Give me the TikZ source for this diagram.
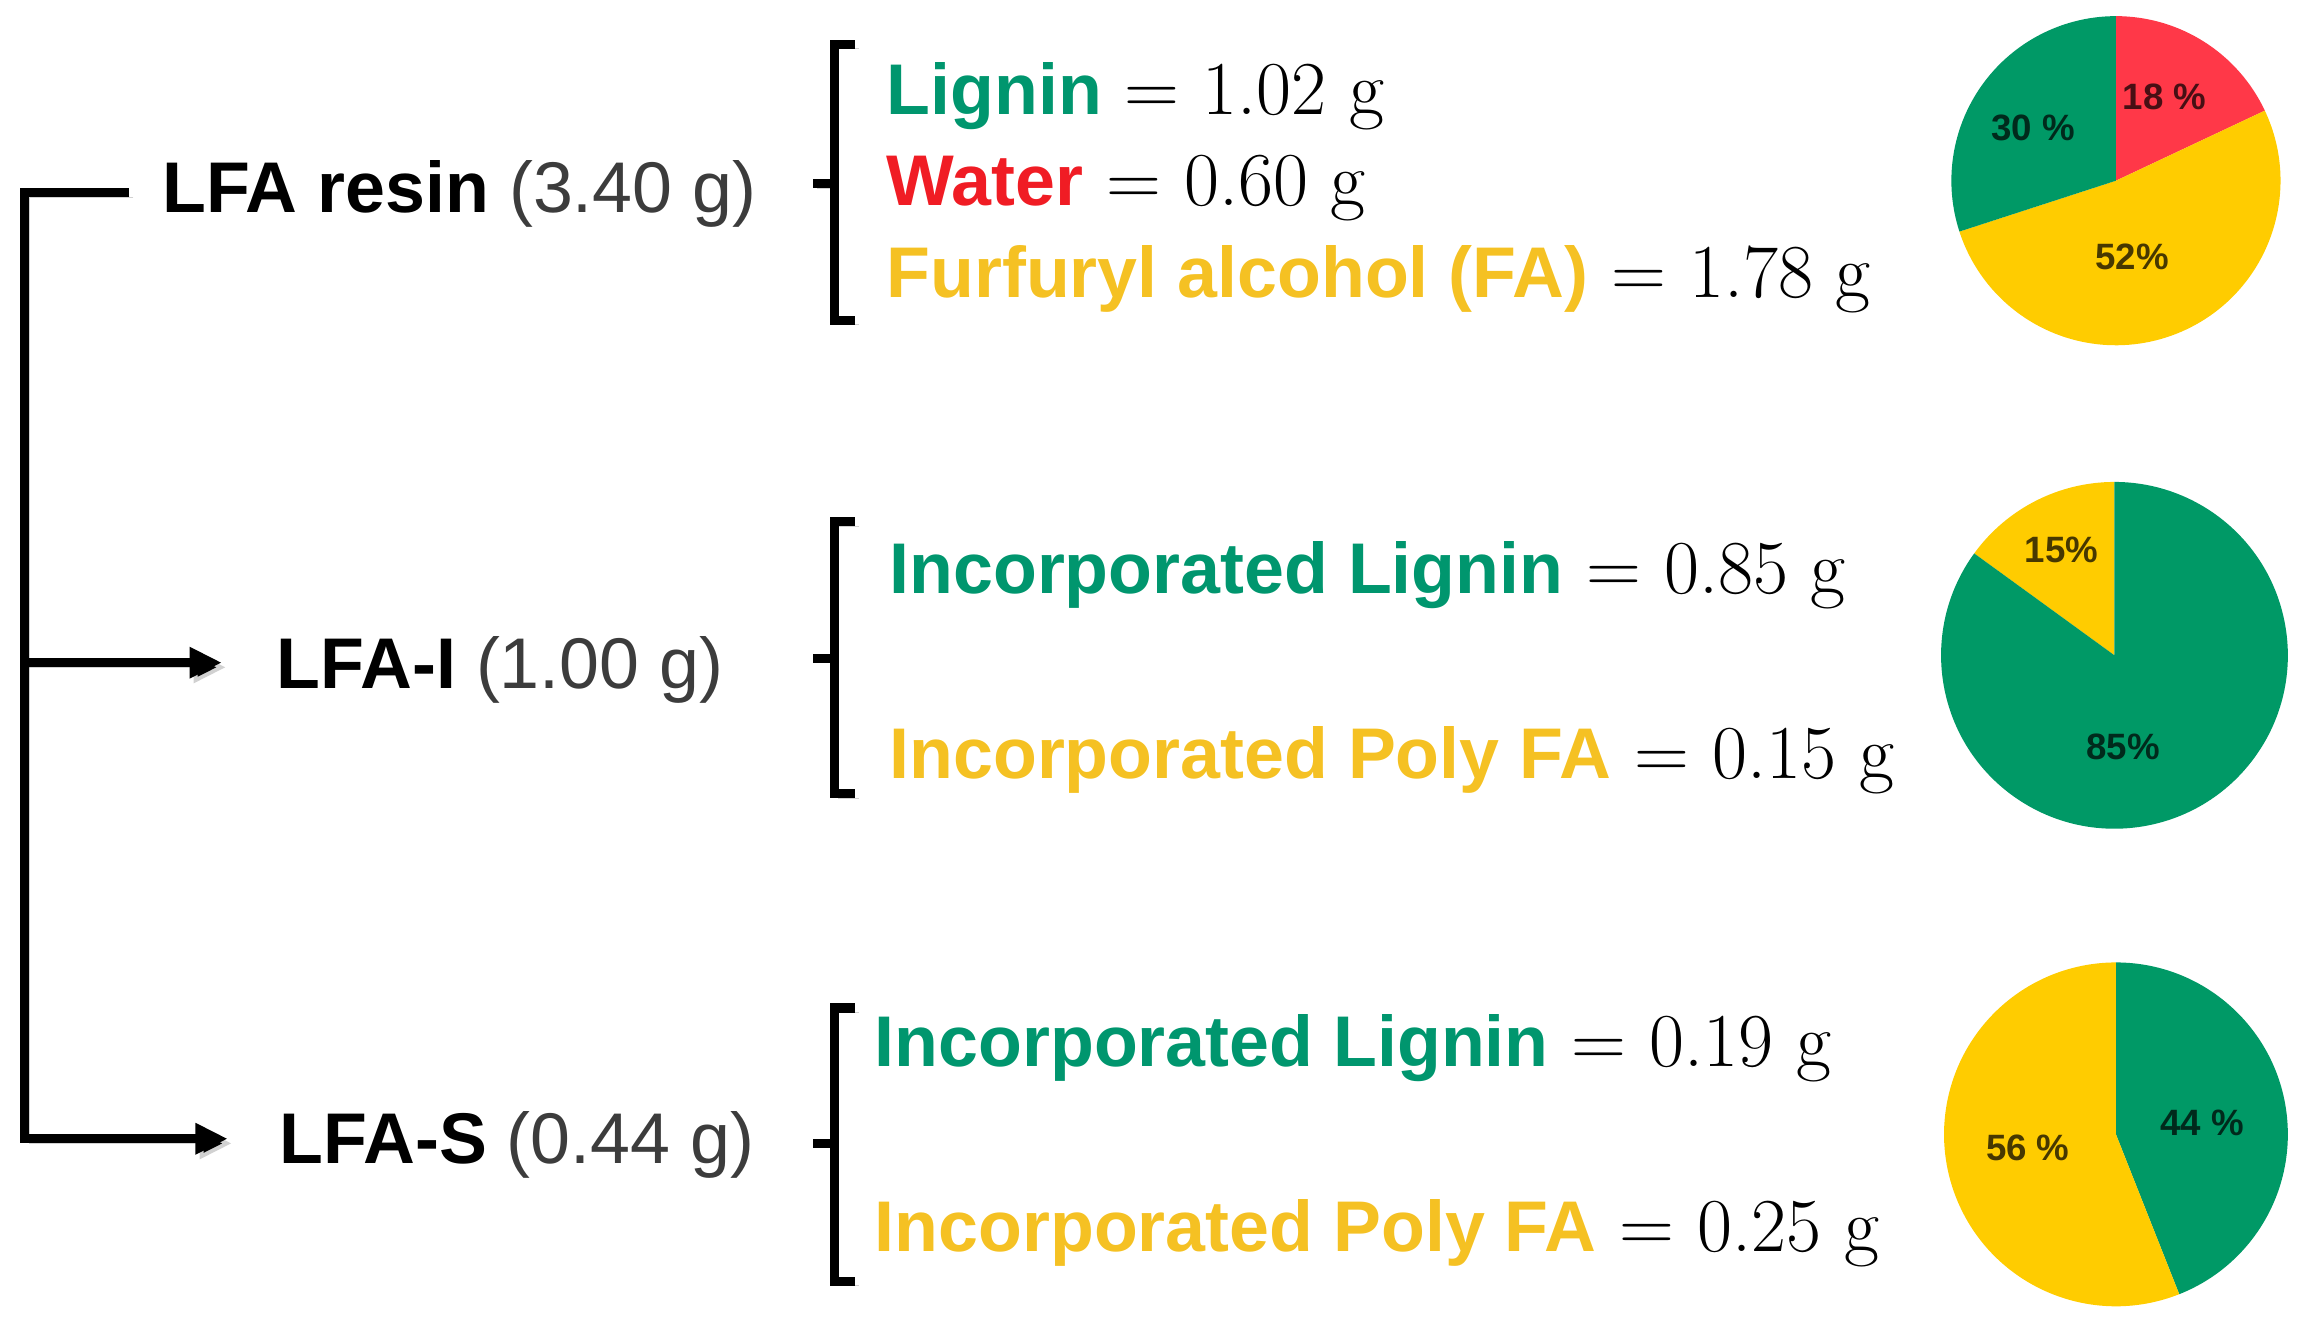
\documentclass[tikz,border=0pt]{standalone}
\usepackage{fontspec}
\newfontfamily\arialf{Liberation Sans}
\usetikzlibrary{arrows.meta}
\definecolor{tgreen}{RGB}{0,150,110}
\definecolor{tred}{RGB}{240,28,36}
\definecolor{tyellow}{RGB}{245,193,35}
\definecolor{pgreen}{RGB}{0,153,102}
\definecolor{pred}{RGB}{255,56,72}
\definecolor{pyellow}{RGB}{255,204,0}
\definecolor{tgray}{RGB}{60,60,60}
\newcommand\sansb[2]{{\arialf\bfseries\fontsize{27.8}{31}\selectfont\textcolor{#1}{#2}}}
\tikzset{
 mainlbl/.style={anchor=mid west, inner sep=0pt, font=\arialf\fontsize{27.8}{31}\selectfont},
 itemlbl/.style={anchor=mid west, inner sep=0pt, font=\fontsize{29.5}{32}\selectfont},
 shad/.style={preaction={draw=black, draw opacity=0.18, transform canvas={xshift=1.6pt,yshift=-1.8pt}}},
 treeline/.style={line width=3.5pt, shad},
 brk/.style={line width=3.5pt, shad},
 tip/.style={-{Triangle[length=0.44cm,width=0.4cm]}},
 pct/.style={font=\arialf\bfseries\fontsize{14.2}{16}\selectfont, text=black, text opacity=0.72, inner sep=0pt},
}
\begin{document}
\begin{tikzpicture}[x=0.02cm,y=0.02cm]
\useasboundingbox (0,0) rectangle (1568,908);
% main labels
\node[mainlbl] (resin) at (110,767) {\textbf{LFA resin} \textcolor{tgray}{(3.40 g)}};
\node[mainlbl] (lfai) at (188,443) {\textbf{LFA-I} \textcolor{tgray}{(1.00 g)}};
\node[mainlbl] (lfas) at (190,120) {\textbf{LFA-S} \textcolor{tgray}{(0.44 g)}};
% tree
\coordinate (tl) at (17,777);
\coordinate (j1) at (17,457);
\coordinate (j2) at (17,133);
\coordinate (r0) at ([xshift=-0.44cm]resin.west);
\coordinate (i0) at ([xshift=-0.74cm]lfai.west);
\coordinate (s0) at ([xshift=-0.7cm]lfas.west);
\draw[treeline,tip,line join=miter] (r0 |- tl) -- (tl) -- (j2) -- (s0 |- j2);
\draw[treeline,tip] (j1) -- (i0 |- j1);
% brackets
\draw[brk] (582,878) -- (568,878) -- (568,690) -- (582,690);
\draw[brk] (568,783) -- (553,783);
\draw[brk] (582,553) -- (568,553) -- (568,368) -- (582,368);
\draw[brk] (568,460) -- (553,460);
\draw[brk] (582,222) -- (568,222) -- (568,36) -- (582,36);
\draw[brk] (568,130) -- (553,130);
% items
\node[itemlbl] (a1) at (603,834) {\sansb{tgreen}{Lignin} = 1.02 g};
\node[itemlbl] (a2) at (603,772) {\sansb{tred}{Water} = 0.60 g};
\node[itemlbl] (a3) at (603,709) {\sansb{tyellow}{Furfuryl alcohol (FA)} = 1.78 g};
\node[itemlbl] (b1) at (605,508) {\sansb{tgreen}{Incorporated Lignin} = 0.85 g};
\node[itemlbl] (b2) at (605,382) {\sansb{tyellow}{Incorporated Poly FA} = 0.15 g};
\node[itemlbl] (c1) at (595,186) {\sansb{tgreen}{Incorporated Lignin} = 0.19 g};
\node[itemlbl] (c2) at (595,60) {\sansb{tyellow}{Incorporated Poly FA} = 0.25 g};
% pie 1
\begin{scope}[shift={(1440,785)}]
\fill[pred] (0,0) -- (90:112) arc[start angle=90,end angle=25.2,radius=112] -- cycle;
\fill[pyellow] (0,0) -- (25.2:112) arc[start angle=25.2,end angle=-162,radius=112] -- cycle;
\fill[pgreen] (0,0) -- (-162:112) arc[start angle=-162,end angle=-270,radius=112] -- cycle;
\end{scope}
\node[pct] (p1a) at (1383.5,821) {30 \%};
\node[pct] (p1b) at (1473,842) {18 \%};
\node[pct] (p1c) at (1451,733) {52\%};
% pie 2
\begin{scope}[shift={(1439,462)}]
\fill[pyellow] (0,0) -- (90:118) arc[start angle=90,end angle=144,radius=118] -- cycle;
\fill[pgreen] (0,0) -- (144:118) arc[start angle=144,end angle=450,radius=118] -- cycle;
\end{scope}
\node[pct] (p2a) at (1403,534) {15\%};
\node[pct] (p2b) at (1445,400) {85\%};
% pie 3
\begin{scope}[shift={(1440,136)}]
\fill[pgreen] (0,0) -- (90:117) arc[start angle=90,end angle=-68.4,radius=117] -- cycle;
\fill[pyellow] (0,0) -- (-68.4:117) arc[start angle=-68.4,end angle=-270,radius=117] -- cycle;
\end{scope}
\node[pct] (p3a) at (1498.5,144) {44 \%};
\node[pct] (p3b) at (1380,127) {56 \%};
\end{tikzpicture}
\end{document}
